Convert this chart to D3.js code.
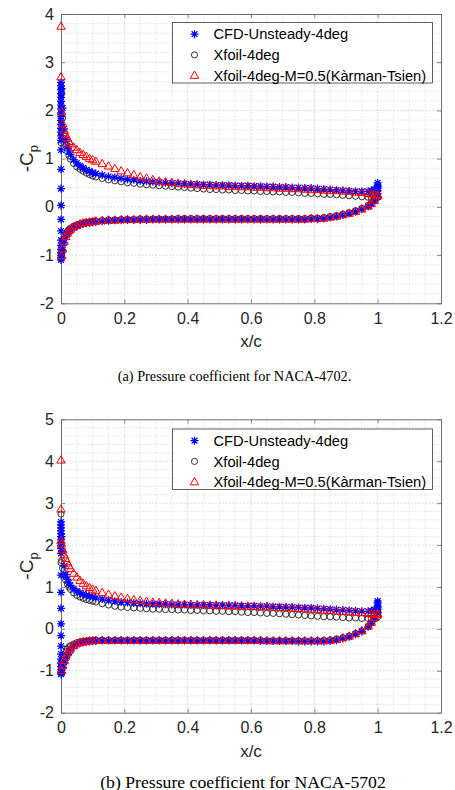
<!DOCTYPE html>
<html>
<head>
<meta charset="utf-8">
<script src="https://cdn.jsdelivr.net/npm/d3@7"></script>
<style>
  body { margin: 0; background: #fff; }
  svg { display: block; }
</style>
</head>
<body>
<script>
// ---------------------------------------------------------------------------
// Chord stations (x/c) shared by the surface distributions
// ---------------------------------------------------------------------------
const xStations = [
  0.002, 0.005, 0.01, 0.015, 0.02, 0.025, 0.03, 0.04, 0.05, 0.06, 0.07, 0.08, 0.09, 0.10,
  0.11, 0.13, 0.15, 0.17, 0.19, 0.21, 0.23, 0.25, 0.27, 0.29, 0.31,
  0.33, 0.35, 0.37, 0.39, 0.41, 0.43, 0.45, 0.47, 0.49, 0.51, 0.53,
  0.55, 0.57, 0.59, 0.61, 0.63, 0.65, 0.67, 0.69, 0.71, 0.73, 0.75,
  0.77, 0.79, 0.81, 0.83, 0.85, 0.87, 0.89, 0.91, 0.93, 0.95, 0.97,
  0.98, 0.99, 1.0
];

const xTicks = [0, 0.2, 0.4, 0.6, 0.8, 1, 1.2];
const yTicksA = [-2, -1, 0, 1, 2, 3, 4];
const yTicksB = [-2, -1, 0, 1, 2, 3, 4, 5];
const seriesNames = ["CFD-Unsteady-4deg", "Xfoil-4deg", "Xfoil-4deg-M=0.5(Kàrman-Tsien)"];
const captions = ["(a) Pressure coefficient for NACA-4702.", "(b) Pressure coefficient for NACA-5702"];

// ---------------------------------------------------------------------------
// NACA-4702  (-Cp)
// ---------------------------------------------------------------------------
const cfdUpperA = [
  2.45, 2.05, 1.62, 1.40, 1.26, 1.16, 1.09, 0.98, 0.91, 0.85, 0.81, 0.77, 0.74, 0.71,
  0.69, 0.66, 0.63, 0.61, 0.59, 0.57, 0.56, 0.54, 0.53, 0.52, 0.51,
  0.50, 0.49, 0.49, 0.48, 0.47, 0.47, 0.46, 0.46, 0.45, 0.45, 0.45,
  0.44, 0.44, 0.44, 0.43, 0.43, 0.42, 0.42, 0.41, 0.41, 0.40, 0.40,
  0.39, 0.39, 0.38, 0.37, 0.36, 0.35, 0.34, 0.33, 0.32, 0.32, 0.32,
  0.34, 0.37, 0.42
];
const cfdLowerA = [
  -1.05, -0.90, -0.74, -0.63, -0.56, -0.51, -0.48, -0.43, -0.40, -0.37, -0.35, -0.34, -0.33, -0.32,
  -0.31, -0.30, -0.29, -0.28, -0.28, -0.27, -0.27, -0.27, -0.27, -0.26, -0.26,
  -0.26, -0.26, -0.26, -0.26, -0.26, -0.26, -0.26, -0.26, -0.26, -0.26, -0.26,
  -0.26, -0.26, -0.26, -0.26, -0.26, -0.26, -0.26, -0.26, -0.26, -0.26, -0.26,
  -0.26, -0.25, -0.25, -0.24, -0.22, -0.20, -0.17, -0.14, -0.10, -0.05, 0.01,
  0.06, 0.12, 0.21
];
const cfdNoseA = [2.58, 2.51, 2.43, 2.35, 2.27, 2.19, 2.11, 2.03, 1.95, 1.87, 1.79, 1.71, 1.63, 1.55,
  1.47, 1.38, 1.18, 0.78, 0.38, 0.03, -0.26, -0.50, -0.69, -0.80, -0.88, -0.95, -1.01, -1.06, -1.10];
const cfdTailA = [0.27, 0.33, 0.39, 0.45, 0.50];

const xfoilUpperA = [
  2.35, 1.85, 1.48, 1.28, 1.15, 1.06, 0.99, 0.90, 0.83, 0.78, 0.74, 0.70, 0.67, 0.64,
  0.62, 0.59, 0.56, 0.54, 0.52, 0.50, 0.49, 0.47, 0.46, 0.45, 0.44,
  0.43, 0.42, 0.41, 0.40, 0.39, 0.38, 0.37, 0.36, 0.36, 0.35, 0.35,
  0.34, 0.34, 0.33, 0.33, 0.32, 0.32, 0.31, 0.31, 0.30, 0.30, 0.29,
  0.28, 0.28, 0.27, 0.26, 0.26, 0.25, 0.24, 0.23, 0.22, 0.21, 0.20,
  0.19, 0.19, 0.20
];
const xfoilLowerA = [
  -0.95, -0.80, -0.66, -0.57, -0.51, -0.47, -0.44, -0.40, -0.37, -0.35, -0.33, -0.32, -0.31, -0.30,
  -0.29, -0.28, -0.27, -0.27, -0.26, -0.26, -0.26, -0.25, -0.25, -0.25, -0.25,
  -0.25, -0.25, -0.24, -0.24, -0.24, -0.24, -0.24, -0.24, -0.24, -0.24, -0.24,
  -0.24, -0.24, -0.24, -0.24, -0.24, -0.24, -0.24, -0.24, -0.24, -0.24, -0.24,
  -0.24, -0.23, -0.23, -0.22, -0.20, -0.18, -0.15, -0.12, -0.08, -0.03, 0.03,
  0.07, 0.13, 0.20
];
const xfoilNoseA = [1.33, -1.00];

const ktUpperA = [
  1.97, 1.72, 1.58, 1.49, 1.42, 1.35, 1.30, 1.23, 1.18, 1.12, 1.08, 1.04, 1.00, 0.97,
  0.94, 0.89, 0.84, 0.79, 0.74, 0.70, 0.66, 0.62, 0.59, 0.56, 0.53,
  0.51, 0.50, 0.48, 0.47, 0.46, 0.45, 0.44, 0.44, 0.43, 0.43, 0.42,
  0.42, 0.41, 0.41, 0.40, 0.40, 0.39, 0.39, 0.38, 0.38, 0.37, 0.37,
  0.36, 0.35, 0.35, 0.34, 0.33, 0.33, 0.32, 0.31, 0.30, 0.29, 0.27,
  0.26, 0.25, 0.24
];
const ktLowerA = [
  -1.02, -0.88, -0.72, -0.62, -0.55, -0.50, -0.47, -0.42, -0.39, -0.36, -0.34, -0.33, -0.32, -0.31,
  -0.30, -0.29, -0.28, -0.28, -0.27, -0.27, -0.27, -0.26, -0.26, -0.26, -0.26,
  -0.26, -0.26, -0.26, -0.26, -0.26, -0.26, -0.26, -0.26, -0.26, -0.26, -0.26,
  -0.26, -0.26, -0.26, -0.26, -0.26, -0.26, -0.26, -0.26, -0.26, -0.26, -0.26,
  -0.26, -0.25, -0.25, -0.24, -0.22, -0.20, -0.17, -0.14, -0.10, -0.05, 0.01,
  0.06, 0.13, 0.22
];
const ktNoseA = [3.74, 2.69];

// ---------------------------------------------------------------------------
// NACA-5702  (-Cp)
// ---------------------------------------------------------------------------
const cfdUpperB = [
  2.20, 1.85, 1.50, 1.30, 1.18, 1.10, 1.04, 0.96, 0.90, 0.86, 0.83, 0.80, 0.78, 0.76,
  0.74, 0.71, 0.68, 0.66, 0.64, 0.63, 0.62, 0.61, 0.60, 0.60, 0.59,
  0.59, 0.58, 0.58, 0.58, 0.57, 0.57, 0.57, 0.57, 0.56, 0.56, 0.56,
  0.56, 0.55, 0.55, 0.55, 0.54, 0.54, 0.53, 0.53, 0.52, 0.52, 0.51,
  0.50, 0.50, 0.49, 0.48, 0.47, 0.46, 0.45, 0.44, 0.43, 0.42, 0.42,
  0.43, 0.46, 0.52
];
const cfdLowerB = [
  -1.05, -0.92, -0.80, -0.70, -0.62, -0.55, -0.50, -0.42, -0.37, -0.34, -0.32, -0.31, -0.30, -0.29,
  -0.29, -0.28, -0.28, -0.28, -0.28, -0.28, -0.28, -0.28, -0.28, -0.28, -0.28,
  -0.28, -0.28, -0.28, -0.28, -0.28, -0.28, -0.28, -0.28, -0.28, -0.28, -0.28,
  -0.28, -0.28, -0.28, -0.28, -0.29, -0.29, -0.29, -0.29, -0.29, -0.29, -0.30,
  -0.30, -0.30, -0.30, -0.30, -0.29, -0.27, -0.23, -0.19, -0.13, -0.06, 0.05,
  0.14, 0.25, 0.38
];
const cfdNoseB = [2.55, 2.48, 2.41, 2.34, 2.27, 2.20, 2.13, 2.06, 1.99, 1.92, 1.80,
  1.28, 0.87, 0.49, 0.12, -0.16, -0.41, -0.60, -0.72, -0.82, -0.90, -0.97, -1.03, -1.08];
const cfdTailB = [0.40, 0.47, 0.55, 0.62, 0.66];

const xfoilUpperB = [
  1.63, 1.45, 1.28, 1.16, 1.07, 1.00, 0.94, 0.86, 0.80, 0.76, 0.73, 0.70, 0.68, 0.66,
  0.64, 0.60, 0.57, 0.54, 0.52, 0.51, 0.50, 0.49, 0.48, 0.47, 0.47,
  0.46, 0.46, 0.45, 0.45, 0.44, 0.44, 0.43, 0.43, 0.42, 0.42, 0.41,
  0.41, 0.40, 0.39, 0.39, 0.38, 0.37, 0.37, 0.36, 0.35, 0.34, 0.33,
  0.32, 0.31, 0.30, 0.29, 0.29, 0.28, 0.27, 0.26, 0.26, 0.25, 0.25,
  0.25, 0.26, 0.28
];
const xfoilLowerB = [
  -0.95, -0.80, -0.65, -0.55, -0.48, -0.43, -0.40, -0.36, -0.33, -0.31, -0.30, -0.29, -0.28, -0.28,
  -0.27, -0.27, -0.27, -0.27, -0.27, -0.27, -0.27, -0.27, -0.27, -0.27, -0.27,
  -0.27, -0.27, -0.27, -0.27, -0.27, -0.27, -0.27, -0.27, -0.27, -0.27, -0.27,
  -0.27, -0.27, -0.27, -0.27, -0.27, -0.28, -0.28, -0.28, -0.28, -0.28, -0.28,
  -0.28, -0.28, -0.28, -0.27, -0.26, -0.24, -0.21, -0.17, -0.11, -0.05, 0.06,
  0.14, 0.24, 0.35
];
const xfoilNoseB = [2.74, 1.58];

const ktUpperB = [
  2.02, 1.88, 1.76, 1.67, 1.59, 1.50, 1.43, 1.32, 1.23, 1.15, 1.08, 1.02, 0.98, 0.94,
  0.91, 0.86, 0.82, 0.78, 0.75, 0.72, 0.69, 0.67, 0.65, 0.63, 0.62,
  0.61, 0.60, 0.59, 0.58, 0.58, 0.57, 0.57, 0.56, 0.56, 0.55, 0.55,
  0.54, 0.54, 0.53, 0.53, 0.52, 0.52, 0.51, 0.50, 0.50, 0.49, 0.48,
  0.47, 0.46, 0.45, 0.44, 0.43, 0.42, 0.41, 0.40, 0.39, 0.38, 0.36,
  0.35, 0.34, 0.33
];
const ktLowerB = [
  -1.00, -0.88, -0.76, -0.66, -0.58, -0.52, -0.47, -0.40, -0.36, -0.33, -0.31, -0.30, -0.29, -0.29,
  -0.28, -0.28, -0.28, -0.28, -0.28, -0.28, -0.28, -0.28, -0.28, -0.28, -0.28,
  -0.28, -0.28, -0.28, -0.28, -0.28, -0.28, -0.28, -0.28, -0.28, -0.28, -0.28,
  -0.28, -0.28, -0.28, -0.28, -0.28, -0.29, -0.29, -0.29, -0.29, -0.29, -0.29,
  -0.29, -0.29, -0.29, -0.29, -0.28, -0.26, -0.22, -0.18, -0.12, -0.05, 0.06,
  0.15, 0.26, 0.36
];
const ktNoseB = [4.02, 2.85, 2.10];

// ---------------------------------------------------------------------------
// Drawing
// ---------------------------------------------------------------------------
const W = 455, H = 790;
const svg = d3.select("body").append("svg").attr("width", W).attr("height", H);

const AXIS_GRAY = "#6e6e6e";
const TEXT_COL = "#262626";
const SANS = "'Liberation Sans', Arial, Helvetica, sans-serif";
const SERIF = "'Liberation Serif', 'Times New Roman', serif";

// MATLAB-like marker glyphs
const markerPath = {
  star: "M-4,0H4M0,-4V4M-2.9,-2.9L2.9,2.9M-2.9,2.9L2.9,-2.9",
  circle: d3.symbol(d3.symbolCircle, 30)(),
  tri: "M0,-4.6L4.2,2.7L-4.2,2.7Z"
};
const styles = {
  cfd:   { path: markerPath.star,   stroke: "#0000ff", width: 1.25 },
  xfoil: { path: markerPath.circle, stroke: "#1a1a1a", width: 0.9 },
  kt:    { path: markerPath.tri,    stroke: "#ff0000", width: 1.0 }
};

function surfacePoints(upper, lower, nose, tail) {
  const pts = [];
  xStations.forEach((xv, i) => { pts.push([xv, upper[i]]); pts.push([xv, lower[i]]); });
  (nose || []).forEach(v => pts.push([0, v]));
  (tail || []).forEach(v => pts.push([1, v]));
  return pts;
}

function drawPanel(p) {
  const x = d3.scaleLinear().domain([0, 1.2]).range([61, 441]);
  const y = d3.scaleLinear().domain(p.yDomain).range([p.bottom, p.top]);
  const g = svg.append("g");

  // minor grid
  const minorX = d3.range(0, 1.2001, 0.05).filter(v => Math.abs(v / 0.2 - Math.round(v / 0.2)) > 1e-6);
  const minorY = d3.range(p.yDomain[0], p.yDomain[1] + 1e-6, 0.2).filter(v => Math.abs(v - Math.round(v)) > 1e-6);
  g.append("g").selectAll("line").data(minorX).join("line")
    .attr("x1", d => x(d)).attr("x2", d => x(d)).attr("y1", p.top).attr("y2", p.bottom)
    .attr("stroke", "#dedede").attr("stroke-width", 0.8).attr("stroke-dasharray", "1.5,1.5");
  g.append("g").selectAll("line").data(minorY).join("line")
    .attr("y1", d => y(d)).attr("y2", d => y(d)).attr("x1", 61).attr("x2", 441)
    .attr("stroke", "#dedede").attr("stroke-width", 0.8).attr("stroke-dasharray", "1.5,1.5");
  // major grid
  g.append("g").selectAll("line").data(xTicks.slice(1, -1)).join("line")
    .attr("x1", d => x(d)).attr("x2", d => x(d)).attr("y1", p.top).attr("y2", p.bottom)
    .attr("stroke", "#d2d2d2").attr("stroke-width", 0.8).attr("stroke-dasharray", "2,1.5");
  g.append("g").selectAll("line").data(p.yTicks.slice(1, -1)).join("line")
    .attr("y1", d => y(d)).attr("y2", d => y(d)).attr("x1", 61).attr("x2", 441)
    .attr("stroke", "#d2d2d2").attr("stroke-width", 0.8).attr("stroke-dasharray", "2,1.5");

  // axes (box with inward ticks)
  const styleAxis = sel => {
    sel.select(".domain").attr("stroke", AXIS_GRAY).attr("stroke-width", 1);
    sel.selectAll(".tick line").attr("stroke", AXIS_GRAY).attr("stroke-width", 0.8);
    sel.selectAll(".tick text").attr("fill", TEXT_COL).attr("font-family", SANS).attr("font-size", 16);
  };
  g.append("g").attr("transform", `translate(0,${p.bottom})`)
    .call(d3.axisBottom(x).tickValues(xTicks).tickFormat(d => String(d)).tickSize(-4).tickSizeOuter(0).tickPadding(9))
    .call(styleAxis);
  g.append("g").attr("transform", `translate(0,${p.top})`)
    .call(d3.axisTop(x).tickValues(xTicks).tickFormat("").tickSize(-4).tickSizeOuter(0))
    .call(styleAxis);
  g.append("g").attr("transform", "translate(61,0)")
    .call(d3.axisLeft(y).tickValues(p.yTicks).tickFormat(d => String(d)).tickSize(-4).tickSizeOuter(0).tickPadding(7))
    .call(styleAxis);
  g.append("g").attr("transform", "translate(441,0)")
    .call(d3.axisRight(y).tickValues(p.yTicks).tickFormat("").tickSize(-4).tickSizeOuter(0))
    .call(styleAxis);
  g.selectAll(".tick text").attr("font-size", 16);

  // data markers
  const drawSeries = (pts, st) => {
    g.append("g").selectAll("path").data(pts).join("path")
      .attr("d", st.path)
      .attr("transform", d => `translate(${x(d[0])},${y(d[1])})`)
      .attr("fill", "none").attr("stroke", st.stroke).attr("stroke-width", st.width);
  };
  drawSeries(p.xfoil, styles.xfoil);
  drawSeries(p.cfd, styles.cfd);
  drawSeries(p.kt, styles.kt);

  // axis labels
  g.append("text").attr("x", (61 + 441) / 2).attr("y", p.bottom + 44)
    .attr("text-anchor", "middle").attr("font-family", SANS).attr("font-size", 17).attr("fill", TEXT_COL)
    .text("x/c");
  const yl = g.append("text")
    .attr("transform", `translate(33,${(p.top + p.bottom) / 2}) rotate(-90)`)
    .attr("text-anchor", "middle").attr("font-family", SANS).attr("font-size", 19).attr("fill", TEXT_COL);
  yl.append("tspan").text("-C");
  yl.append("tspan").attr("font-size", 13).attr("dy", 5).text("p");

  // legend
  const lg = g.append("g");
  lg.append("rect").attr("x", p.legend[0]).attr("y", p.legend[1]).attr("width", 260).attr("height", 60.5)
    .attr("fill", "#fff").attr("stroke", "#3a3a3a").attr("stroke-width", 0.8);
  [styles.cfd, styles.xfoil, styles.kt].forEach((st, i) => {
    const cy = p.legend[1] + 11.7 + i * 20.7;
    lg.append("path").attr("d", st.path).attr("transform", `translate(${p.legend[0] + 22},${cy})`)
      .attr("fill", "none").attr("stroke", st.stroke).attr("stroke-width", st.width);
    lg.append("text").attr("x", p.legend[0] + 41).attr("y", cy + 5.2)
      .attr("font-family", SANS).attr("font-size", 14.7).attr("fill", "#000")
      .text(seriesNames[i]);
  });

  // caption
  svg.append("text").attr("x", p.caption[0]).attr("y", p.caption[1])
    .attr("text-anchor", "middle").attr("font-family", SERIF).attr("font-size", p.caption[2]).attr("fill", "#000")
    .text(p.captionText);
}

drawPanel({
  top: 14, bottom: 303.3, yDomain: [-2, 4], yTicks: yTicksA,
  cfd: surfacePoints(cfdUpperA, cfdLowerA, cfdNoseA, cfdTailA),
  xfoil: surfacePoints(xfoilUpperA, xfoilLowerA, xfoilNoseA),
  kt: surfacePoints(ktUpperA, ktLowerA, ktNoseA),
  legend: [172.5, 22.5],
  caption: [234.5, 381, 14.3], captionText: captions[0]
});
drawPanel({
  top: 419.3, bottom: 712.7, yDomain: [-2, 5], yTicks: yTicksB,
  cfd: surfacePoints(cfdUpperB, cfdLowerB, cfdNoseB, cfdTailB),
  xfoil: surfacePoints(xfoilUpperB, xfoilLowerB, xfoilNoseB),
  kt: surfacePoints(ktUpperB, ktLowerB, ktNoseB),
  legend: [172.5, 429],
  caption: [243, 787.5, 17.7], captionText: captions[1]
});
</script>
</body>
</html>
